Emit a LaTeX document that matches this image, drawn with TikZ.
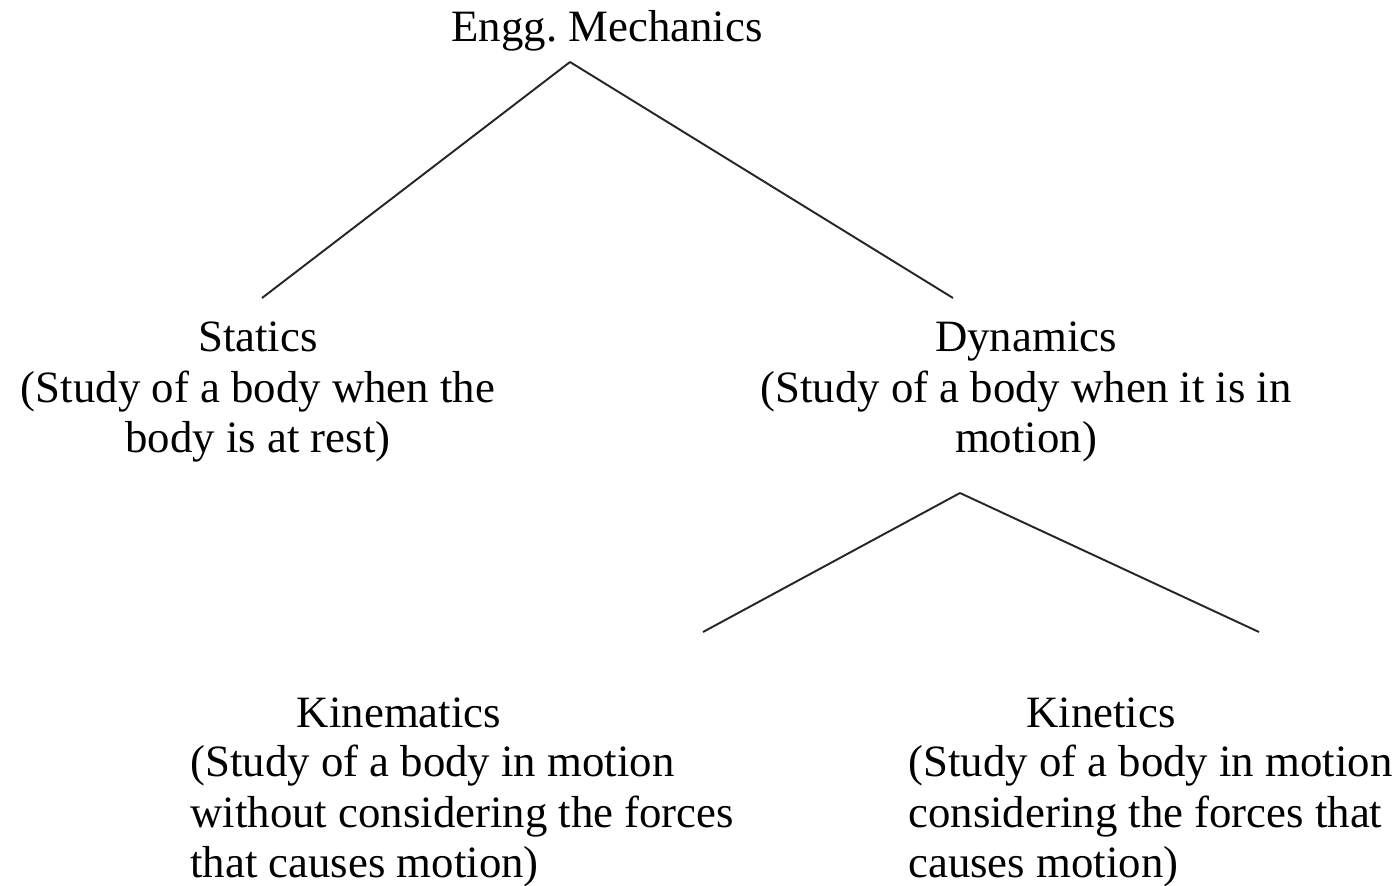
\documentclass[tikz,border=0pt]{standalone}
\usepackage{fontspec}
\setmainfont{Liberation Serif}
\frenchspacing
\def\textnode{\node[inner sep=0pt,align=center]}
\def\bodynode{\node[inner sep=0pt,align=left,anchor=west]}

\begin{document}
\begin{tikzpicture}[x=0.02cm,y=-0.02cm,
  every node/.style={font=\fontsize{25.5}{28.5}\selectfont},
  branch/.style={draw=black!85,line width=1.1pt}]
\useasboundingbox (0,0) rectangle (1395,885);
\textnode (mech) at (607,31) {Engg. Mechanics};
\textnode (statics) at (258,392) {Statics\\(Study of a body when the\\body is at rest)};
\textnode (dynamics) at (1026,392) {Dynamics\\(Study of a body when it is in\\motion)};
\textnode (kinem) at (399,713) {Kinematics};
\bodynode (kinembody) at (190,816) {(Study of a body in motion\\without considering the forces\\that causes motion)};
\textnode (kinet) at (1101,713) {Kinetics};
\bodynode (kinetbody) at (908,816) {(Study of a body in motion\\considering the forces that\\causes motion)};
\coordinate (mtop) at (570,62);
\coordinate (stend) at (262,298);
\coordinate (dyend) at (953,298);
\coordinate (dtop) at (960,493);
\coordinate (kmend) at (703,632);
\coordinate (ktend) at (1259,632);
\draw[branch] (mtop) -- (stend);
\draw[branch] (mtop) -- (dyend);
\draw[branch] (dtop) -- (kmend);
\draw[branch] (dtop) -- (ktend);
\end{tikzpicture}
\end{document}
